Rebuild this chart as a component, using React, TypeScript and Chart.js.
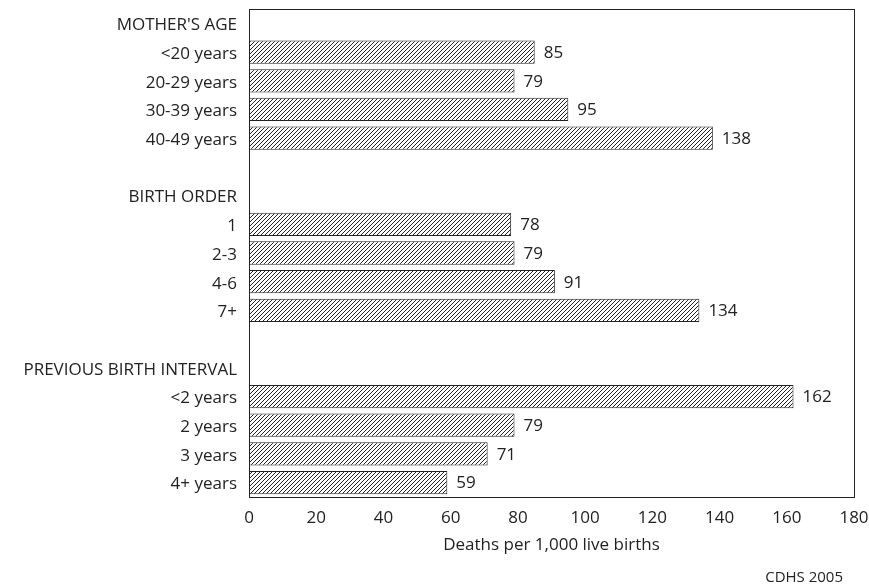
import React, { useEffect, useRef } from "react";
import { Chart, registerables } from "chart.js";

Chart.register(...registerables);

const categories = [
  "MOTHER'S AGE", "<20 years", "20-29 years", "30-39 years", "40-49 years", "",
  "BIRTH ORDER", "1", "2-3", "4-6", "7+", "",
  "PREVIOUS BIRTH INTERVAL", "<2 years", "2 years", "3 years", "4+ years",
];
const values: (number | null)[] = [
  null, 85, 79, 95, 138, null,
  null, 78, 79, 91, 134, null,
  null, 162, 79, 71, 59,
];
const xTicks = [0, 20, 40, 60, 80, 100, 120, 140, 160, 180];
const xTitle = "Deaths per 1,000 live births";
const source = "CDHS 2005";

const FONT = "'Open Sans', Lato, sans-serif";
const TEXT = "#222";

function makeHatch(): CanvasPattern | string {
  const c = document.createElement("canvas");
  const s = 4;
  c.width = s;
  c.height = s;
  const g = c.getContext("2d");
  if (!g) return "#888";
  g.fillStyle = "#fff";
  g.fillRect(0, 0, s, s);
  g.strokeStyle = "#222";
  g.lineWidth = 1;
  g.beginPath();
  g.moveTo(0, s);
  g.lineTo(s, 0);
  g.moveTo(-1, 1);
  g.lineTo(1, -1);
  g.moveTo(s - 1, s + 1);
  g.lineTo(s + 1, s - 1);
  g.stroke();
  const p = g.createPattern(c, "repeat");
  return p || "#888";
}

export default function App() {
  const ref = useRef<HTMLCanvasElement>(null);
  useEffect(() => {
    if (!ref.current) return;
    const hatch = makeHatch();
    const extras = {
      id: "extras",
      afterDraw(chart: any) {
        const { ctx, chartArea } = chart;
        ctx.save();
        ctx.strokeStyle = "#222";
        ctx.lineWidth = 1;
        ctx.strokeRect(
          Math.round(chartArea.left) + 0.5,
          Math.round(chartArea.top) + 0.5,
          Math.round(chartArea.right - chartArea.left),
          Math.round(chartArea.bottom - chartArea.top)
        );
        const meta = chart.getDatasetMeta(0);
        ctx.fillStyle = TEXT;
        ctx.font = `17px ${FONT}`;
        ctx.textBaseline = "middle";
        ctx.textAlign = "left";
        meta.data.forEach((el: any, i: number) => {
          const v = values[i];
          if (v == null) return;
          ctx.fillText(String(v), el.x + 9, el.y + 1);
        });
        ctx.textAlign = "right";
        ctx.font = `15px ${FONT}`;
        ctx.fillText(source, chart.width - 26, chart.height - 9);
        ctx.restore();
      },
    };
    const chart = new Chart(ref.current, {
      type: "bar",
      data: {
        labels: categories,
        datasets: [
          {
            data: values as any,
            backgroundColor: hatch as any,
            borderColor: "#222",
            borderWidth: 1,
            barPercentage: 0.9,
            categoryPercentage: 0.9,
          },
        ],
      },
      options: {
        indexAxis: "y",
        animation: false,
        responsive: false,
        layout: { padding: { top: 9, right: 15, left: 0, bottom: 32 } },
        plugins: { legend: { display: false }, tooltip: { enabled: false } },
        scales: {
          x: {
            min: 0,
            max: 180,
            afterBuildTicks(scale: any) {
              scale.ticks = xTicks.map((v) => ({ value: v }));
            },
            afterFit(scale: any) {
              scale.height = 58;
              scale.paddingLeft = 0;
              scale.paddingRight = 0;
            },
            grid: { display: false, drawTicks: false },
            border: { display: false },
            ticks: {
              padding: 11,
              color: TEXT,
              font: { family: FONT, size: 17 },
            },
            title: {
              display: true,
              text: xTitle,
              color: TEXT,
              font: { family: FONT, size: 17 },
              padding: { top: 6, bottom: 0 },
            },
          },
          y: {
            afterFit(scale: any) {
              scale.width = 249;
              scale.paddingTop = 0;
              scale.paddingBottom = 0;
            },
            grid: { display: false, drawTicks: false },
            border: { display: false },
            ticks: {
              padding: 12,
              labelOffset: 2,
              autoSkip: false,
              color: TEXT,
              font: { family: FONT, size: 17 },
            },
          },
        },
      },
      plugins: [extras],
    });
    return () => chart.destroy();
  }, []);
  return (
    <div style={{ position: "absolute", left: 0, top: 0, width: 869, height: 587, background: "#fff" }}>
      <canvas ref={ref} width={869} height={587} />
    </div>
  );
}
